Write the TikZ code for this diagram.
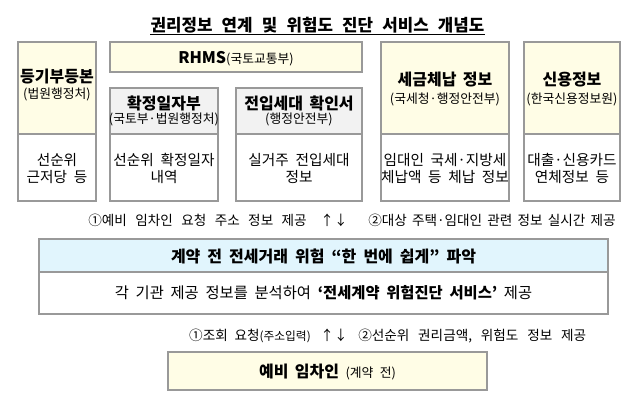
\documentclass[tikz,border=0pt]{standalone}
\usepackage{fontspec}
\setmainfont{Noto Sans CJK KR}
\usetikzlibrary{calc}
\definecolor{cream}{HTML}{FFFDE6}
\definecolor{hdgray}{HTML}{F2F2F2}
\definecolor{skyblue}{HTML}{E1F5FD}
\definecolor{bordergray}{HTML}{999999}
\newcommand\wsp[1]{\spaceskip=#1em\relax}
\tikzset{
  frame/.style={draw=bordergray, line width=0.9pt},
  txt/.style={inner sep=0pt, anchor=base},
  hd/.style={txt, font=\fontsize{12}{14}\selectfont\bfseries\wsp{0.4}},
  subt/.style={txt, font=\fontsize{9.6}{11}\selectfont\wsp{0.4}},
  bd/.style={txt, font=\fontsize{11}{13}\selectfont\wsp{0.45}},
  ln/.style={txt, font=\fontsize{10.2}{12}\selectfont\wsp{#1}},
  ln/.default=0.5,
}
\begin{document}
\begin{tikzpicture}[x=0.75pt,y=-0.75pt]
\useasboundingbox[fill=white] (0,0) rectangle (643,405);

% title
\node[txt, font=\fontsize{12.6}{14}\selectfont\bfseries\wsp{0.55}] (title) at (317.5,31.3) {권리정보 연계 및 위험도 진단 서비스 개념도};
\draw[line width=0.8pt] ($(title.base west)+(0,2.8)$) -- ($(title.base east)+(0,2.8)$);

% box 1
\draw[frame, fill=cream] (18,42) rectangle (96,134);
\draw[frame, fill=white] (18,134) rectangle (96,201);
\node[hd] (h1) at (57,82) {등기부등본};
\node[subt] (s1) at (57,98.8) {(법원행정처)};
\node[bd] (b1a) at (57,165) {선순위};
\node[bd] (b1b) at (57,182) {근저당 등};

% RHMS
\draw[frame, fill=cream] (110,42) rectangle (362,72);
\node[hd] (rhms) at (236,63) {RHMS{\fontsize{9.6}{11}\selectfont\mdseries(국토교통부)}};

% box 2
\draw[frame, fill=hdgray] (110,88) rectangle (218,134);
\draw[frame, fill=white] (110,134) rectangle (218,201);
\node[hd] (h2) at (164,109.3) {확정일자부};
\node[subt] (s2) at (164,123.5) {(국토부·법원행정처)};
\node[bd] (b2a) at (164,165) {선순위 확정일자};
\node[bd] (b2b) at (164,182) {내역};

% box 3
\draw[frame, fill=hdgray] (236,88) rectangle (362,134);
\draw[frame, fill=white] (236,134) rectangle (362,201);
\node[hd] (h3) at (299,109.3) {전입세대 확인서};
\node[subt] (s3) at (299,123.5) {(행정안전부)};
\node[bd] (b3a) at (299,165) {실거주 전입세대};
\node[bd] (b3b) at (299,182) {정보};

% box 4
\draw[frame, fill=cream] (381,42) rectangle (509,134);
\draw[frame, fill=white] (381,134) rectangle (509,201);
\node[hd] (h4) at (445,85) {세금체납 정보};
\node[subt] (s4) at (445,103.1) {(국세청·행정안전부)};
\node[bd] (b4a) at (445,165) {임대인 국세·지방세};
\node[bd] (b4b) at (445,182) {체납액 등 체납 정보};

% box 5
\draw[frame, fill=cream] (524,42) rectangle (620,134);
\draw[frame, fill=white] (524,134) rectangle (620,201);
\node[hd] (h5) at (572,85) {신용정보};
\node[subt] (s5) at (572,103.1) {(한국신용정보원)};
\node[bd] (b5a) at (572,165) {대출·신용카드};
\node[bd] (b5b) at (572,182) {연체정보 등};

% line 1
\node[ln=0.62, anchor=base east] (l1a) at (307,225.1) {①예비 임차인 요청 주소 정보 제공};
\node[ln] (l1arr) at (334,225.1) {↑↓};
\node[ln=0.38, anchor=base west] (l1b) at (368,225.1) {②대상 주택·임대인 관련 정보 실시간 제공};

% central box
\draw[frame, fill=skyblue] (39,239) rectangle (608,272);
\draw[frame, fill=white] (39,272) rectangle (608,314);
\node[txt, font=\fontsize{12}{14}\selectfont\bfseries\wsp{0.44}] (c1) at (323.5,262.5) {계약 전 전세거래 위험 “한 번에 쉽게” 파악};
\node[txt, font=\fontsize{11.5}{13}\selectfont\wsp{0.44}] (c2) at (323.5,298.8) {각 기관 제공 정보를 분석하여 {\bfseries ‘전세계약 위험진단 서비스’} 제공};

% line 2
\node[ln, anchor=base east] (l2a) at (311,340.1) {①조회 요청{\fontsize{8.8}{10}\selectfont(주소입력)}};
\node[ln] (l2arr) at (334,340.1) {↑↓};
\node[ln=0.65, anchor=base west] (l2b) at (358,340.1) {②선순위 권리금액, 위험도 정보 제공};

% bottom box
\draw[frame, fill=cream] (168,352) rectangle (487,390);
\node[hd] (tenant) at (327.5,377) {예비 임차인 {\fontsize{9.6}{11}\selectfont\mdseries (계약 전)}};
\end{tikzpicture}
\end{document}
